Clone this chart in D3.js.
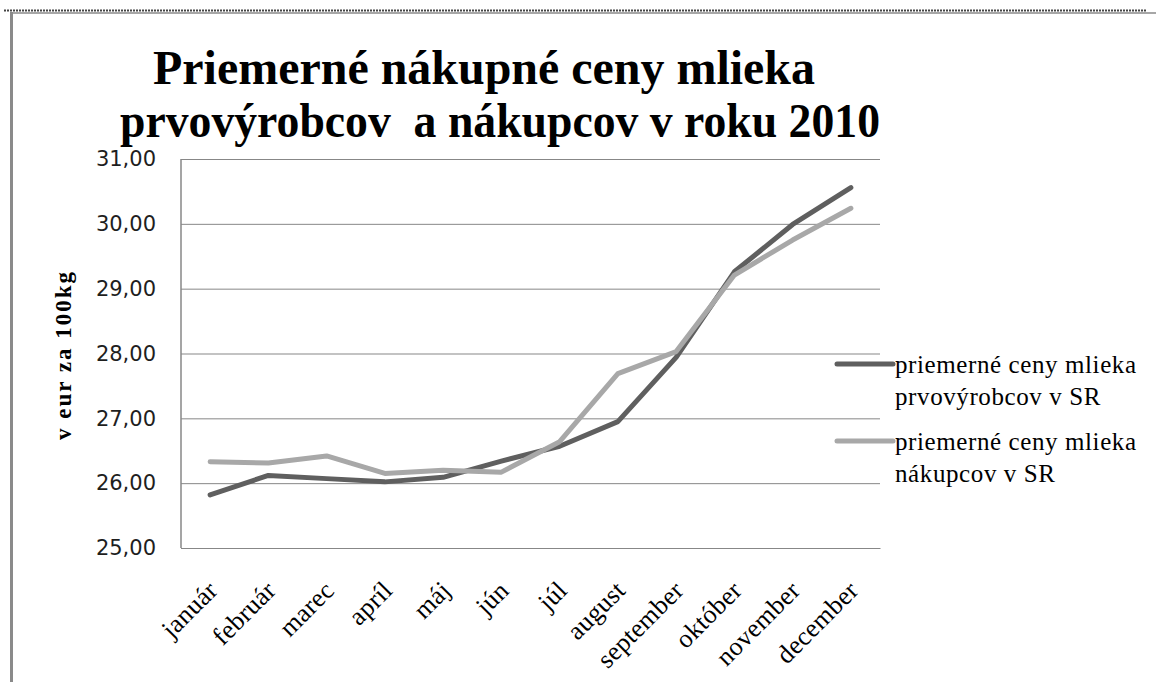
<!DOCTYPE html>
<html>
<head>
<meta charset="utf-8">
<script src="https://cdn.jsdelivr.net/npm/d3@7"></script>
<style>
    body { margin: 0; background: #fff; }
    svg { display: block; }
</style>
</head>
<body>
<svg id="chart" width="1156" height="682"></svg>
<script>
// months on the x axis
let months = ['január', 'február', 'marec', 'apríl', 'máj', 'jún', 'júl',
    'august', 'september', 'október', 'november', 'december'];

// average purchase price of milk, eur per 100 kg
let producers = [25.82, 26.12, 26.07, 26.02, 26.09, 26.34, 26.57, 26.95, 27.94, 29.26, 29.99, 30.56];
let buyers = [26.33, 26.31, 26.42, 26.15, 26.20, 26.17, 26.64, 27.69, 28.03, 29.21, 29.75, 30.24];

let yTicks = [25, 26, 27, 28, 29, 30, 31];
let seriesNames = [
    ['priemerné ceny mlieka', 'prvovýrobcov v SR'],
    ['priemerné ceny mlieka', 'nákupcov v SR']
];
let titleLines = ['Priemerné nákupné ceny mlieka', 'prvovýrobcov  a nákupcov v roku 2010'];
let yTitle = 'v eur za 100kg';

let svg = d3.select('#chart');
let serif = '"Liberation Serif", "Times New Roman", serif';

let margin = {left: 181, right: 276, top: 159, bottom: 134};
let width = 1156 - margin.left - margin.right;
let height = 682 - margin.top - margin.bottom;

// page frame: dotted top rule, grey rule under it and on the left
svg.append('line').attr('x1', 4).attr('x2', 1147).attr('y1', 10.5).attr('y2', 10.5)
    .attr('stroke', '#444').attr('stroke-width', 2).attr('stroke-dasharray', '2,1');
svg.append('line').attr('x1', 11).attr('x2', 1156).attr('y1', 13).attr('y2', 13)
    .attr('stroke', '#8a8a8a').attr('stroke-width', 1.5);
svg.append('line').attr('x1', 11.5).attr('x2', 11.5).attr('y1', 12).attr('y2', 682)
    .attr('stroke', '#8a8a8a').attr('stroke-width', 3);

// title, second line squeezed a little like the original
svg.append('g').selectAll('text').data(titleLines).enter().append('text')
    .attr('x', (d, i) => i === 0 ? 484 : 500)
    .attr('y', (d, i) => 84 + i * 53)
    .attr('text-anchor', 'middle')
    .attr('textLength', (d, i) => i === 0 ? 662 : 760)
    .attr('lengthAdjust', 'spacingAndGlyphs')
    .style('font-family', serif)
    .style('font-weight', 'bold')
    .style('font-size', '48px')
    .style('white-space', 'pre')
    .text(d => d);

let x = d3.scaleBand().domain(months).range([0, width]);
let y = d3.scaleLinear().domain([25, 31]).range([height, 0]);
let cx = d => x(d) + x.bandwidth() / 2;

let g = svg.append('g').attr('transform', `translate(${margin.left},${margin.top})`);

let locale = d3.formatLocale({decimal: ',', thousands: ' ', grouping: [3], currency: ['', '']});
let fmt = locale.format('.2f');

// y axis with gridlines
let yAxis = g.append('g')
    .call(d3.axisLeft(y).tickValues(yTicks).tickFormat(fmt).tickSize(-width).tickPadding(25));
yAxis.select('.domain').remove();
yAxis.selectAll('line').attr('stroke', '#878787');
yAxis.selectAll('text')
    .style('font-family', '"DejaVu Sans", sans-serif')
    .style('font-size', '21px')
    .attr('fill', '#1e1e1e');

g.append('line').attr('x1', 0).attr('x2', 0).attr('y1', 0).attr('y2', height)
    .attr('stroke', '#878787').attr('stroke-width', 1.5);

// x axis
let xAxis = g.append('g').attr('transform', `translate(0,${height})`)
    .call(d3.axisBottom(x).tickSize(0));
xAxis.select('.domain').attr('stroke', '#878787');
xAxis.selectAll('text')
    .attr('x', 0).attr('y', 0).attr('dy', 0)
    .attr('text-anchor', 'end')
    .attr('transform', 'translate(9,44) rotate(-45)')
    .style('font-family', serif)
    .style('font-size', '26px')
    .style('letter-spacing', '0.3px')
    .attr('fill', '#000');

// y axis title
svg.append('text')
    .attr('transform', 'translate(71,355) rotate(-90)')
    .attr('text-anchor', 'middle')
    .style('font-family', serif)
    .style('font-weight', 'bold')
    .style('font-size', '23px')
    .style('letter-spacing', '2px')
    .text(yTitle);

// lines
let line = d3.line().x((d, i) => cx(months[i])).y(d => y(d));
let series = [
    {values: producers, color: '#5f5f5f'},
    {values: buyers, color: '#a8a8a8'}
];
g.selectAll('path.series').data(series).enter().append('path')
    .attr('class', 'series')
    .attr('d', d => line(d.values))
    .attr('fill', 'none')
    .attr('stroke', d => d.color)
    .attr('stroke-width', 5)
    .attr('stroke-linejoin', 'round')
    .attr('stroke-linecap', 'round');

// legend
let legend = svg.append('g').selectAll('g').data(series).enter().append('g')
    .attr('transform', (d, i) => `translate(836,${373 + i * 77})`);
legend.append('line')
    .attr('x1', 1).attr('x2', 57).attr('y1', -9).attr('y2', -9)
    .attr('stroke', d => d.color).attr('stroke-width', 5).attr('stroke-linecap', 'round');
legend.append('text')
    .attr('x', 59)
    .style('font-family', serif)
    .style('font-size', '25px')
    .style('letter-spacing', '0.6px')
    .selectAll('tspan').data((d, i) => seriesNames[i]).enter().append('tspan')
    .attr('x', 59)
    .attr('dy', (d, i) => i === 0 ? 0 : 32)
    .text(d => d);
</script>
</body>
</html>
